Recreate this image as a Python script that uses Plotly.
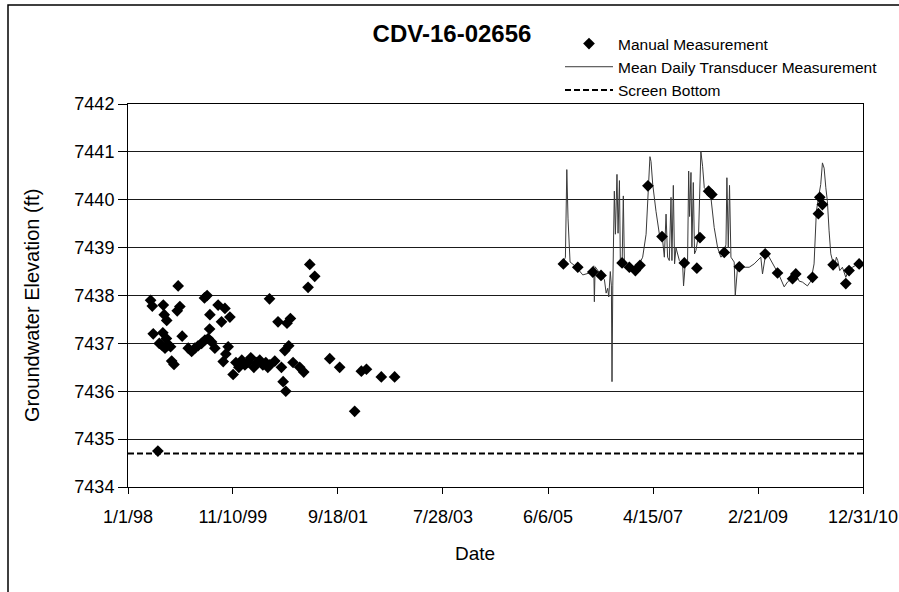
import plotly.graph_objects as go

# ---------------- data ----------------
manual_dates = [
    "1998-05-27", "1998-06-07", "1998-06-13", "1998-07-13", "1998-07-22", "1998-08-06",
    "1998-08-14", "1998-08-17", "1998-08-23", "1998-08-28", "1998-09-06", "1998-09-08",
    "1998-09-18", "1998-10-03", "1998-10-10", "1998-10-25", "1998-11-15", "1998-11-21",
    "1998-12-02", "1998-12-17", "1999-01-25", "1999-02-16", "1999-03-09", "1999-03-30",
    "1999-04-21", "1999-05-10", "1999-05-13", "1999-05-27", "1999-06-03", "1999-06-12",
    "1999-06-14", "1999-06-25", "1999-07-16", "1999-08-06", "1999-08-28", "1999-09-08",
    "1999-09-19", "1999-09-25", "1999-10-10", "1999-10-21", "1999-11-11", "1999-11-29",
    "1999-12-18", "2000-01-06", "2000-01-26", "2000-02-14", "2000-03-04", "2000-03-24",
    "2000-04-12", "2000-05-01", "2000-05-21", "2000-06-09", "2000-06-22", "2000-07-03",
    "2000-07-05", "2000-08-06", "2000-08-27", "2000-09-18", "2000-09-29", "2000-10-10",
    "2000-10-16", "2000-10-24", "2000-11-04", "2000-11-15", "2000-12-02", "2001-01-14",
    "2001-02-09", "2001-03-09", "2001-03-20", "2001-04-21", "2001-07-27", "2001-09-29",
    "2002-01-04", "2002-02-16", "2002-03-21", "2002-06-25", "2002-09-19",
    "2005-09-13", "2005-12-15", "2006-03-22", "2006-05-14", "2006-09-27", "2006-11-13",
    "2006-12-22", "2007-01-21", "2007-03-13", "2007-06-12", "2007-11-03", "2008-01-23",
    "2008-02-12", "2008-04-08", "2008-04-29", "2008-07-18", "2008-10-23", "2009-04-08",
    "2009-06-27", "2009-10-02", "2009-10-23", "2010-02-08", "2010-03-18", "2010-03-27",
    "2010-04-13", "2010-06-21", "2010-09-11", "2010-10-02", "2010-12-06",
]
manual_values = [
    7437.90, 7437.78, 7437.20, 7434.75, 7437.00, 7436.97,
    7437.22, 7437.80, 7437.60, 7436.90, 7437.10, 7437.48,
    7436.97, 7436.93, 7436.63, 7436.56, 7437.68, 7438.20,
    7437.77, 7437.15, 7436.90, 7436.83, 7436.90, 7436.95,
    7437.00, 7437.95, 7437.07, 7438.00, 7437.10, 7437.30,
    7437.60, 7437.03, 7436.90, 7437.80, 7437.45, 7436.62,
    7437.73, 7436.78, 7436.93, 7437.55, 7436.35, 7436.60,
    7436.50, 7436.65, 7436.55, 7436.60, 7436.70, 7436.50,
    7436.60, 7436.65, 7436.55, 7436.60, 7436.50, 7437.93,
    7436.55, 7436.63, 7437.45, 7436.50, 7436.20, 7436.85,
    7436.00, 7437.42, 7436.95, 7437.52, 7436.60, 7436.50,
    7436.40, 7438.17, 7438.65, 7438.40, 7436.68, 7436.50,
    7435.58, 7436.42, 7436.46, 7436.30, 7436.30,
    7438.66, 7438.59, 7438.49, 7438.42, 7438.68, 7438.59,
    7438.52, 7438.63, 7440.29, 7439.23, 7438.68, 7438.57,
    7439.21, 7440.18, 7440.11, 7438.90, 7438.60, 7438.87,
    7438.47, 7438.35, 7438.45, 7438.38, 7439.71, 7440.05,
    7439.90, 7438.64, 7438.25, 7438.52, 7438.66,
]

transducer_dates = [
    "2005-09-09", "2005-09-26", "2005-10-05", "2005-10-13", "2005-10-26", "2005-12-04",
    "2006-01-16", "2006-02-28", "2006-03-28", "2006-04-01", "2006-04-06", "2006-05-04",
    "2006-06-05", "2006-06-16", "2006-06-26", "2006-07-03", "2006-07-13", "2006-07-20",
    "2006-07-24", "2006-07-29", "2006-08-04", "2006-08-08", "2006-08-15", "2006-08-25",
    "2006-09-01", "2006-09-10", "2006-09-16", "2006-09-27", "2006-10-05", "2006-10-12",
    "2006-11-13", "2006-12-15", "2007-01-17", "2007-02-07", "2007-03-01", "2007-03-16",
    "2007-03-26", "2007-04-02", "2007-04-13", "2007-05-04", "2007-05-26", "2007-06-16",
    "2007-06-27", "2007-07-08", "2007-07-18", "2007-07-29", "2007-08-09", "2007-08-15",
    "2007-08-24", "2007-09-01", "2007-09-10", "2007-10-02", "2007-10-23", "2007-10-29",
    "2007-11-09", "2007-11-24", "2007-12-01", "2007-12-07", "2007-12-16", "2007-12-22",
    "2007-12-31", "2008-01-08", "2008-01-17", "2008-02-03", "2008-02-18", "2008-02-29",
    "2008-03-11", "2008-04-01", "2008-04-23", "2008-05-14", "2008-06-05", "2008-06-26",
    "2008-07-18", "2008-07-29", "2008-08-04", "2008-08-13", "2008-08-21", "2008-08-30",
    "2008-09-20", "2008-09-27", "2008-10-12", "2008-11-13", "2008-12-26", "2009-01-27",
    "2009-02-18", "2009-03-11", "2009-03-22", "2009-04-13", "2009-05-04", "2009-05-26",
    "2009-06-16", "2009-07-08", "2009-08-09", "2009-08-30", "2009-10-02", "2009-10-23",
    "2009-11-14", "2009-12-05", "2010-01-06", "2010-01-28", "2010-02-18", "2010-03-05",
    "2010-03-18", "2010-04-02", "2010-04-13", "2010-04-24", "2010-05-05", "2010-05-15",
    "2010-05-26", "2010-06-06", "2010-06-17", "2010-07-02", "2010-07-12", "2010-07-21",
    "2010-08-03", "2010-08-20", "2010-09-11", "2010-09-28", "2010-10-24", "2010-11-14",
    "2010-12-16",
]
transducer_values = [
    7438.66, 7438.80, 7440.63, 7439.60, 7438.70, 7438.60,
    7438.43, 7438.47, 7438.62, 7437.87, 7438.60, 7438.47,
    7438.33, 7438.05, 7438.15, 7437.97, 7438.50, 7438.20,
    7436.20, 7438.20, 7439.80, 7440.18, 7439.28, 7440.53,
    7439.30, 7440.40, 7438.66, 7438.60, 7440.08, 7438.66,
    7438.60, 7438.50, 7438.66, 7438.80, 7439.28, 7440.32,
    7440.90, 7440.80, 7440.32, 7439.76, 7439.28, 7439.15,
    7438.80, 7439.70, 7438.80, 7438.73, 7440.05, 7438.73,
    7440.30, 7438.66, 7439.00, 7438.73, 7438.66, 7438.20,
    7438.66, 7438.73, 7440.60, 7439.65, 7440.57, 7439.00,
    7440.36, 7438.87, 7438.94, 7439.28, 7441.01, 7440.70,
    7440.25, 7440.18, 7440.04, 7439.42, 7439.00, 7438.80,
    7438.87, 7439.07, 7440.46, 7439.00, 7440.30, 7438.80,
    7438.70, 7438.00, 7438.60, 7438.59, 7438.59, 7438.66,
    7438.73, 7438.80, 7438.45, 7438.90, 7438.80, 7438.66,
    7438.56, 7438.42, 7438.18, 7438.28, 7438.38, 7438.45,
    7438.30, 7438.28, 7438.20, 7438.30, 7438.66, 7439.76,
    7440.04, 7440.32, 7440.77, 7440.66, 7440.25, 7439.97,
    7439.35, 7438.87, 7438.73, 7438.63, 7438.80, 7438.73,
    7438.52, 7438.59, 7438.38, 7438.52, 7438.59, 7438.63,
    7438.66,
]

screen_dates = ["1998-01-01", "2010-12-31"]
screen_values = [7434.7, 7434.7]

tick_dates = ["1998-01-01", "1999-11-10", "2001-09-18", "2003-07-28",
              "2005-06-06", "2007-04-15", "2009-02-21", "2010-12-31"]
tick_labels = ["1/1/98", "11/10/99", "9/18/01", "7/28/03",
               "6/6/05", "4/15/07", "2/21/09", "12/31/10"]
y_ticks = [7434, 7435, 7436, 7437, 7438, 7439, 7440, 7441, 7442]

# ---------------- figure ----------------
FONT = "Liberation Sans, Arial, sans-serif"
fig = go.Figure()

fig.add_trace(go.Scatter(
    x=transducer_dates, y=transducer_values, mode="lines",
    name="Mean Daily Transducer Measurement",
    line=dict(color="#3a3a3a", width=1), legendrank=2,
))
fig.add_trace(go.Scatter(
    x=manual_dates, y=manual_values, mode="markers",
    name="Manual Measurement",
    marker=dict(symbol="diamond", size=9, color="black"), legendrank=1,
))
fig.add_trace(go.Scatter(
    x=screen_dates, y=screen_values, mode="lines",
    name="Screen Bottom",
    line=dict(color="black", width=2, dash="6px,3px"), legendrank=3,
))

L, R, T, B = 128, 36, 104, 105
W, H = 899, 592
pw, ph = W - L - R, H - T - B


def px(x):
    return (x - L) / pw


def py(y):
    return 1 - (y - T) / ph


fig.update_layout(
    width=W, height=H,
    margin=dict(l=L, r=R, t=T, b=B, autoexpand=False),
    paper_bgcolor="white", plot_bgcolor="white",
    font=dict(family=FONT, color="black", size=16),
    title=dict(text="<b>CDV-16-02656</b>", x=452 / W, xanchor="center",
               y=1 - 34 / H, yanchor="middle", font=dict(size=24, family=FONT)),
    legend=dict(x=px(560), xanchor="left", y=py(27), yanchor="top",
                font=dict(size=15.5, family=FONT), bgcolor="rgba(0,0,0,0)",
                itemwidth=48, tracegroupgap=0),
    showlegend=True,
    shapes=[dict(type="rect", xref="paper", yref="paper",
                 x0=px(8), x1=px(W + 5), y0=py(H + 5), y1=py(5),
                 line=dict(color="black", width=1.5), fillcolor="rgba(0,0,0,0)",
                 layer="below")],
    annotations=[
        dict(text="Date", xref="paper", yref="paper", x=px(475), y=py(553),
             xanchor="center", yanchor="middle", showarrow=False,
             font=dict(size=19, family=FONT)),
        dict(text="Groundwater Elevation (ft)", xref="paper", yref="paper",
             x=px(32), y=py(305), xanchor="center", yanchor="middle",
             textangle=-90, showarrow=False, font=dict(size=20, family=FONT)),
    ],
)

fig.update_xaxes(
    type="date", range=["1998-01-01", "2010-12-31"],
    tickvals=tick_dates, ticktext=tick_labels,
    showgrid=False, zeroline=False,
    showline=True, linecolor="black", linewidth=1, mirror=True,
    ticks="outside", ticklen=6, tickcolor="black",
    ticklabelstandoff=7,
    tickfont=dict(size=18, family=FONT),
)
fig.update_yaxes(
    range=[7434, 7442], tickvals=y_ticks,
    showgrid=True, gridcolor="#1a1a1a", gridwidth=1, zeroline=False,
    showline=True, linecolor="black", linewidth=1, mirror=True,
    ticks="outside", ticklen=9, tickcolor="black",
    tickfont=dict(size=18, family=FONT),
)

fig.write_html("out.html", config={"displayModeBar": False},
               post_script="document.body.style.margin='0';")
